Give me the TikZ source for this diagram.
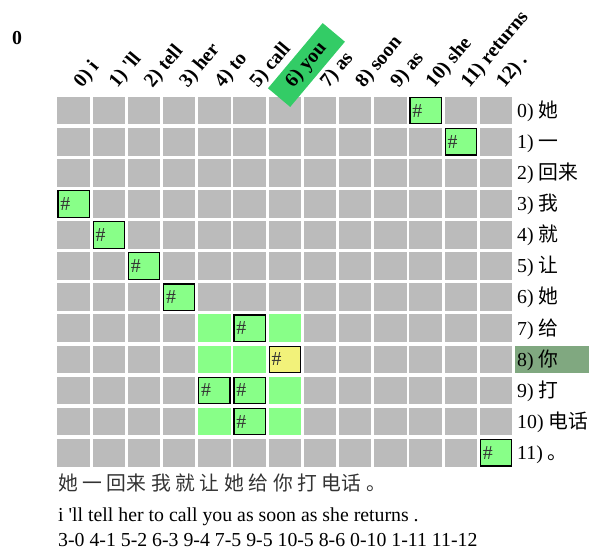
\documentclass[tikz,border=0pt]{standalone}
\usepackage{fontspec}
\setmainfont{Liberation Serif}
\newfontfamily\cjk{Noto Sans CJK SC}
\definecolor{cellgray}{HTML}{BBBBBB}
\definecolor{lgreen}{HTML}{88FF88}
\definecolor{lyellow}{HTML}{F2F27A}
\definecolor{hdrgreen}{HTML}{33CC66}
\definecolor{rowhl}{HTML}{80A880}
\newcommand{\fs}{\fontsize{19.8}{21}\selectfont}
\begin{document}
\begin{tikzpicture}[x=1pt,y=-1pt]
\tikzset{
  cell/.style={minimum width=32.5pt, minimum height=27.7pt, inner sep=0pt, outer sep=0pt, draw=none, fill=cellgray},
  greencell/.style={cell, fill=lgreen},
  hashcell/.style={minimum width=31.3pt, minimum height=26.5pt, inner xsep=2.5pt, inner ysep=0pt, text width=26.3pt, align=left, draw=black, line width=1.2pt, fill=lgreen, font=\fs, text=black!80},
  hdr/.style={font=\fs\bfseries, inner sep=0pt, rotate=50, anchor=base west},
  rowlab/.style={font=\fs, inner sep=0pt, anchor=base west},
  plain/.style={font=\fs, inner sep=0pt, anchor=base west}
}
\useasboundingbox (0,0) rectangle (589,550);
\node[plain, font=\fs\bfseries] (zero) at (12,44) {0};
% grid
\foreach \r in {0,...,11} {
  \foreach \c in {0,...,12} {
    \node[cell] (c-\r-\c) at ({57.3+35.2*\c+16.25},{110.55+31.1*\r}) {};
  }
}
% light green band
\foreach \r/\c in {7/4,7/6,8/4,8/5,9/6,10/4,10/6} {
  \node[greencell] (g-\r-\c) at (c-\r-\c) {};
}
% alignment cells
\foreach \r/\c in {3/0,4/1,5/2,6/3,9/4,7/5,9/5,10/5,0/10,1/11,11/12} {
  \node[hashcell] (a-\r-\c) at (c-\r-\c) {\#};
}
\node[hashcell, fill=lyellow] (a-8-6) at (c-8-6) {\#};
% row highlight
\fill[rowhl] (515,{96.7+31.1*8}) rectangle (589,{96.7+31.1*8+27.7});
% header highlight
\begin{scope}[shift={(285.7,88)},rotate=50]
  \fill[hdrgreen] (-11.6,15.6) rectangle (73.5,-13.4);
\end{scope}
% column headers
\foreach \c/\w in {0/i,1/{\textquotesingle ll},2/tell,3/her,4/to,5/call,6/you,7/as,8/soon,9/as,10/she,11/returns,12/.} {
  \node[hdr] (h\c) at ({57.3+35.2*\c+16.25+8.5},88.5) {\c) \w};
}
% row labels
\foreach \r/\z in {0/她,1/一,2/回来,3/我,4/就,5/让,6/她,7/给,8/你,9/打,10/电话,11/。} {
  \node[rowlab] (r\r) at (517,{110.55+31.1*\r+6.8}) {\r) {\cjk \z}};
}
% sentences
\node[plain, text=black!80] (zh) at (58,490) {\cjk 她\hspace{4.6pt}一\hspace{4.6pt}回来\hspace{4.6pt}我\hspace{4.6pt}就\hspace{4.6pt}让\hspace{4.6pt}她\hspace{4.6pt}给\hspace{4.6pt}你\hspace{4.6pt}打\hspace{4.6pt}电话\hspace{4.6pt}。};
\node[plain] (en) at (58,521) {i \textquotesingle ll tell her to call you as soon as she returns .};
\node[plain] (al) at (58,546.5) {3-0 4-1 5-2 6-3 9-4 7-5 9-5 10-5 8-6 0-10 1-11 11-12};
\end{tikzpicture}
\end{document}
